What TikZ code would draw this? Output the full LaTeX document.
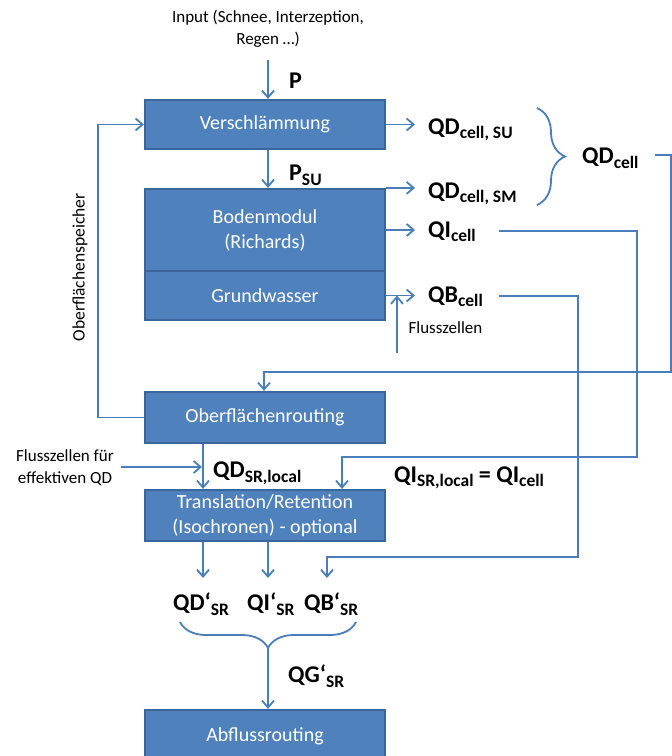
\documentclass[tikz,border=0pt]{standalone}
\usepackage{fontspec}
\setmainfont{Carlito}
\usepackage{tikz}
\usetikzlibrary{arrows.meta}
\usetikzlibrary{decorations.pathreplacing}

\definecolor{boxfill}{HTML}{4F81BD}
\definecolor{boxline}{HTML}{3A669B}
\definecolor{flowline}{HTML}{4A7EBB}

% bold flow name with lowered index
\newcommand{\qlbl}[2]{{\fontsize{24}{24}\selectfont\bfseries #1}\raisebox{-4.5pt}{\fontsize{17.5}{17.5}\selectfont\bfseries #2}}

\begin{document}
\begin{tikzpicture}[x=1pt,y=-1pt,
    >={Straight Barb[length=7pt,width=12pt]},
    block/.style={draw=boxline,fill=boxfill,line width=2.2pt,minimum width=240pt,
        text=white,font=\fontsize{20}{25}\selectfont,align=center,inner sep=0pt},
    flow/.style={draw=flowline,line width=1.8pt},
    outflow/.style={flow,->,shorten >=13pt},
    small/.style={font=\fontsize{17}{22}\selectfont,align=center,inner sep=0pt},
    qlabel/.style={anchor=base west,inner sep=0pt}]
    \clip (0,0) rectangle (672,756);

    % boxes, from the top down
    \node[block,minimum height=49pt] (vers) at (265,124.5) {Verschlämmung};
    \node[block,minimum height=82pt] (boden) at (265,230) {Bodenmodul\\(Richards)};
    \node[block,minimum height=49pt] (grund) at (265,295.5) {Grundwasser};
    \node[block,minimum height=51pt] (ober) at (265,417.5) {Oberflächenrouting};
    \node[block,minimum height=51pt] (trans) at (265,515.5) {Translation/Retention\\(Isochronen) - optional};
    \node[block,minimum height=52pt] (abfl) at (265,736) {Abflussrouting};

    % plain texts
    \node[small] (input) at (268,29) {Input (Schnee, Interzeption,\\Regen …)};
    \node[small] (flz) at (445.5,328) {Flusszellen};
    \node[small] (flzf) at (65,468) {Flusszellen für\\effektiven QD};
    \node[small,font=\fontsize{17.5}{22}\selectfont,rotate=90] (speicher) at (80,267.5) {Oberflächenspeicher};

    % flow names
    \node[qlabel] (p) at (289,88.5) {\qlbl{P}{}};
    \node[qlabel] (psu) at (289,180.5) {\qlbl{P}{SU}};
    \node[qlabel] (qdsu) at (428,134) {\qlbl{QD}{cell, SU}};
    \node[qlabel] (qdsm) at (428,198) {\qlbl{QD}{cell, SM}};
    \node[qlabel] (qicell) at (428,237) {\qlbl{QI}{cell}};
    \node[qlabel] (qbcell) at (428,302) {\qlbl{QB}{cell}};
    \node[qlabel] (qdcell) at (582,163.5) {\qlbl{QD}{cell}};
    \node[qlabel] (qdloc) at (213,477.5) {\qlbl{QD}{SR,local}};
    \node[qlabel] (qiloc) at (394,482) {\qlbl{QI}{SR,local}{\fontsize{24}{24}\selectfont\bfseries\ =\ }\qlbl{QI}{cell}};
    \node[qlabel] (qdsr) at (173,610.5) {\qlbl{QD‘}{SR}};
    \node[qlabel] (qisr) at (247,610.5) {\qlbl{QI‘}{SR}};
    \node[qlabel] (qbsr) at (304,610.5) {\qlbl{QB‘}{SR}};
    \node[qlabel] (qgsr) at (288,682.5) {\qlbl{QG‘}{SR}};

    % bend points
    \coordinate (pS) at (268,60);
    \coordinate (flzB) at (397,353);
    \coordinate (fzS) at (121,467);
    \coordinate (fzT) at (202,467);
    \coordinate (fb) at (98,417.5);
    \coordinate (qdS) at (655,155);
    \coordinate (qdR) at (671,372);
    \coordinate (qdL) at (264,372);
    \coordinate (qiS) at (499,231);
    \coordinate (qiR) at (637,457);
    \coordinate (qiL) at (342,457);
    \coordinate (qbS) at (499,296);
    \coordinate (qbR) at (578,557);
    \coordinate (qbL) at (327,557);
    \coordinate (tipD) at (203,578);
    \coordinate (tipI) at (268,578);
    \coordinate (tipB) at (327,578);
    \coordinate (gtip) at (268,648);

    % connectors
    \draw[flow,->] (pS) -- (pS |- vers.north);
    \draw[flow,->] (pS |- vers.south) -- (pS |- boden.north);
    \draw[outflow] (vers.east) -- (vers.east -| qdsu.west);
    \draw[outflow] (boden.north east) -- (boden.north east -| qdsm.west);
    \draw[outflow] (boden.east) -- (boden.east -| qicell.west);
    \draw[outflow] (grund.east) -- (grund.east -| qbcell.west);
    \draw[flow,->] (flzB) -- (flzB |- grund.east);
    \draw[flow,decorate,decoration={brace,amplitude=28pt}] (537,108) -- (537,205);
    \draw[flow,->] (qdS) -| (qdR) -- (qdL) -- (qdL |- ober.north);
    \draw[flow,->] (ober.west) -- (fb) |- (vers.west);
    \draw[flow,->] (ober.south -| tipD) -- (trans.north -| tipD);
    \draw[flow,->] (fzS) -- (fzT);
    \draw[flow,->] (qiS) -| (qiR) -- (qiL) -- (qiL |- trans.north);
    \draw[flow,->] (trans.south -| tipD) -- (tipD);
    \draw[flow,->] (trans.south -| tipI) -- (tipI);
    \draw[flow,->] (qbS) -| (qbR) -- (qbL) -- (tipB);
    \draw[flow,decorate,decoration={brace,amplitude=26pt,mirror}] (180,622) -- (356,622);
    \draw[flow,->] (gtip) -- (gtip |- abfl.north);
\end{tikzpicture}
\end{document}
